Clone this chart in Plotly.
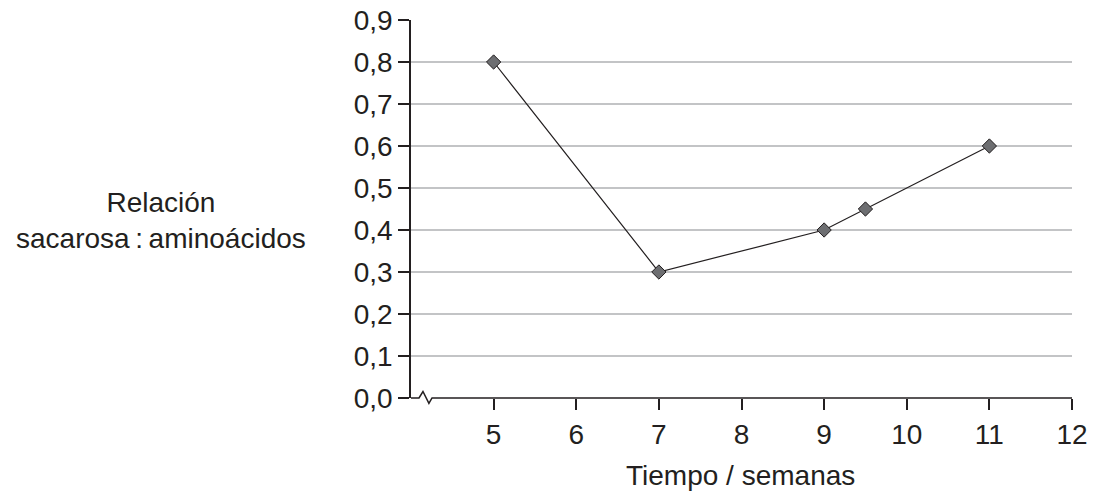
import plotly.graph_objects as go

weeks = [5, 7, 9, 9.5, 11]
ratio = [0.80, 0.30, 0.40, 0.45, 0.60]
x_ticks = [5, 6, 7, 8, 9, 10, 11, 12]
y_ticks = [0.0, 0.1, 0.2, 0.3, 0.4, 0.5, 0.6, 0.7, 0.8, 0.9]
y_labels = ["0,0", "0,1", "0,2", "0,3", "0,4", "0,5", "0,6", "0,7", "0,8", "0,9"]

ink = "#231f20"
font = "Liberation Sans, Arial, sans-serif"
fs = 28

fig = go.Figure()
fig.add_trace(go.Scatter(
    x=weeks, y=ratio, mode="lines+markers",
    line=dict(color=ink, width=1.2),
    marker=dict(symbol="diamond", size=11, color="#6d6e71",
                line=dict(color=ink, width=1)),
    cliponaxis=False, showlegend=False,
))

fig.update_layout(
    width=1094, height=491,
    margin=dict(l=411, r=22, t=20, b=93, autoexpand=False),
    paper_bgcolor="white", plot_bgcolor="white",
    font=dict(family=font, size=fs, color=ink),
    xaxis=dict(range=[4, 12], tickvals=x_ticks, ticktext=[str(v) for v in x_ticks],
               showgrid=False, zeroline=False, showline=False, automargin=False,
               ticks="outside", ticklen=11, tickwidth=1.5, tickcolor=ink,
               tickfont=dict(size=fs, color=ink), fixedrange=True),
    yaxis=dict(range=[0, 0.9], tickvals=y_ticks, ticktext=y_labels,
               showgrid=True, gridcolor="#c3c4c6", gridwidth=1.5, automargin=False,
               zeroline=False, showline=True, linecolor=ink, linewidth=1.5,
               ticks="outside", ticklen=11, tickwidth=1.5, tickcolor=ink,
               tickfont=dict(size=fs, color=ink), fixedrange=True),
)

# broken x-axis line (paper coordinates, not clipped)
fig.add_shape(type="rect", xref="paper", yref="paper", x0=0.009, x1=0.034, y0=-0.008, y1=0.008,
              fillcolor="white", line=dict(width=0), layer="above")
fig.add_shape(type="path", xref="paper", yref="paper",
              path="M 0,0 L 0.0121,0 L 0.0181,0.0172 L 0.0271,-0.0144 L 0.0318,0 L 1,0",
              line=dict(color=ink, width=1.5), layer="above")

fig.add_annotation(xref="paper", yref="paper", x=-0.378, y=0.47,
                   text="Relación<br>sacarosa\u2009:\u2009aminoácidos",
                   showarrow=False, align="center", font=dict(size=fs, color=ink),
                   xanchor="center", yanchor="middle")
fig.add_annotation(xref="paper", yref="paper", x=0.498, y=-0.204,
                   text="Tiempo / semanas", showarrow=False,
                   font=dict(size=fs, color=ink), xanchor="center", yanchor="middle")

fig.write_html("out.html", config={"displayModeBar": False},
               post_script="document.body.style.margin='0';document.body.style.overflow='hidden';")
